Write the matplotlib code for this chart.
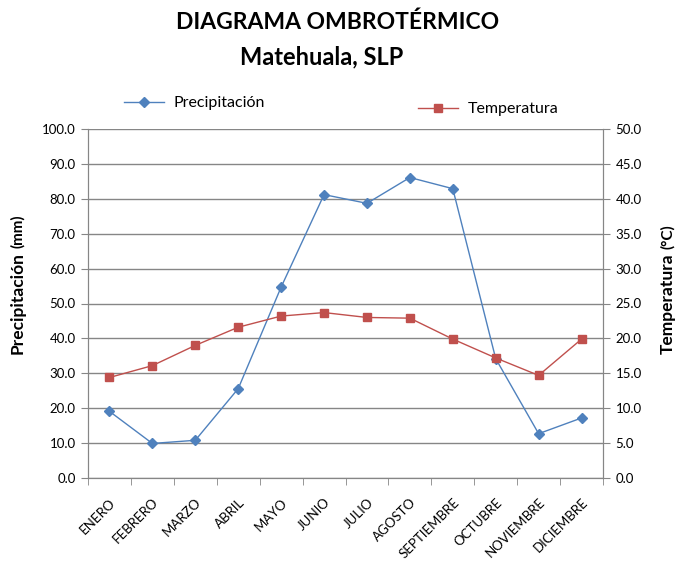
import matplotlib.pyplot as plt

plt.rcParams['font.family'] = ['Lato', 'DejaVu Sans']

meses = ['ENERO', 'FEBRERO', 'MARZO', 'ABRIL', 'MAYO', 'JUNIO', 'JULIO',
         'AGOSTO', 'SEPTIEMBRE', 'OCTUBRE', 'NOVIEMBRE', 'DICIEMBRE']
precipitacion = [19.1, 9.9, 10.8, 25.6, 54.7, 81.2, 78.7, 86.1, 82.9, 34.2, 12.7, 17.2]
temperatura = [14.4, 16.1, 19.0, 21.6, 23.2, 23.7, 23.0, 22.9, 19.9, 17.2, 14.7, 19.9]

azul = '#4F81BD'
rojo = '#C0504D'
gris = '#868686'

fig = plt.figure(figsize=(6.79, 5.63), dpi=100)
ax = fig.add_axes([88/679, 1 - 478/563, (603 - 88)/679, (478 - 129)/563])
ax2 = ax.twinx()

x = list(range(len(meses)))
l1, = ax.plot(x, precipitacion, color=azul, lw=1, marker='D', ms=5,
              label='Precipitación')
l2, = ax2.plot(x, temperatura, color=rojo, lw=1, marker='s', ms=6,
               label='Temperatura')

# ejes
ax.set_xlim(-0.5, 11.5)
ax.set_ylim(0, 100)
ax2.set_ylim(0, 50)
ax.set_yticks(range(0, 101, 10))
ax2.set_yticks(range(0, 51, 5))
ax.set_yticklabels(['%.1f' % v for v in range(0, 101, 10)], fontsize=9.5)
ax2.set_yticklabels(['%.1f' % v for v in range(0, 51, 5)], fontsize=9.5)
ax.grid(axis='y', color=gris, lw=1)
ax.set_axisbelow(True)

ax.set_xticks(x)
ax.set_xticklabels(meses, rotation=45, ha='right', rotation_mode='anchor',
                   fontsize=9.5)
ax.set_xticks([i + 0.5 for i in range(-1, 12)], minor=True)
ax.tick_params(axis='x', which='major', length=0, pad=13)
ax.tick_params(axis='x', which='minor', length=5, color=gris)
ax.tick_params(axis='y', length=5, color=gris, pad=4)
ax2.tick_params(axis='y', length=5, color=gris, pad=4)

for a in (ax, ax2):
    for s in a.spines.values():
        s.set_color(gris)
    a.spines['top'].set_visible(False)

# titulos de ejes
t1 = fig.text(18/679, 1 - 354/563, 'Precipitación', rotation=90,
              ha='center', va='bottom', fontsize=12.5, fontweight='bold')
ax.annotate('(mm)', xy=(0.5, 1), xycoords=t1, rotation=90, ha='center',
            va='bottom', fontsize=11, fontweight='bold', xytext=(0, 3),
            textcoords='offset points')
t2 = fig.text(668/679, 1 - 354/563, 'Temperatura', rotation=90,
              ha='center', va='bottom', fontsize=12.5, fontweight='bold')
ax.annotate('(°C)', xy=(0.5, 1), xycoords=t2, rotation=90, ha='center',
            va='bottom', fontsize=11, fontweight='bold', xytext=(0, 3),
            textcoords='offset points')

# titulo
fig.text(338/679, 1 - 22/563, 'DIAGRAMA OMBROTÉRMICO', ha='center',
         va='center', fontsize=16.5, fontweight='bold')
fig.text(322/679, 1 - 57/563, 'Matehuala, SLP', ha='center', va='center',
         fontsize=17, fontweight='bold')

# leyendas
fig.legend(handles=[l1], loc='center left', bbox_to_anchor=(110/679, 1 - 103/563),
           frameon=False, fontsize=11.5, handlelength=2.5, handletextpad=0.6)
fig.legend(handles=[l2], loc='center left', bbox_to_anchor=(404/679, 1 - 109/563),
           frameon=False, fontsize=11.5, handlelength=2.5, handletextpad=0.6)

fig.savefig('out.png', dpi=100)
